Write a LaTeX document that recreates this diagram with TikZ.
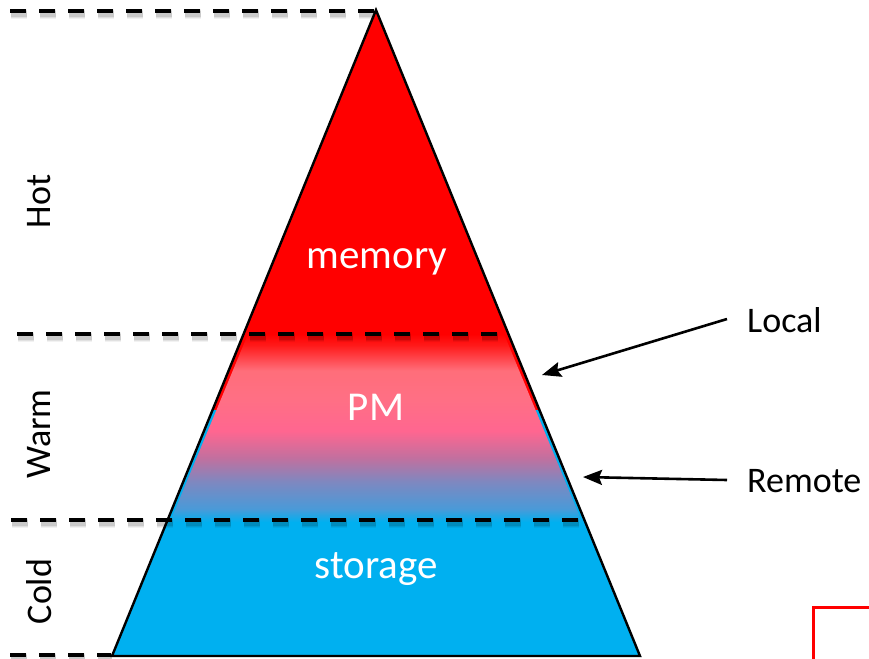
\documentclass[tikz,border=0pt]{standalone}
\usepackage{fontspec}
\setmainfont{Carlito}
\usetikzlibrary{arrows.meta}

\definecolor{hotred}{HTML}{FF0000}
\definecolor{coldblue}{HTML}{00B0F0}
\definecolor{pmA}{HTML}{4A9AD8}
\definecolor{pmB}{HTML}{7E88C0}
\definecolor{pmC}{HTML}{C0709F}
\definecolor{pmD}{HTML}{FF6690}
\definecolor{pmE}{HTML}{FF6F85}
\definecolor{pmF}{HTML}{FF6E7A}
\definecolor{pmG}{HTML}{FF1A1A}

% red-to-blue blend of the PM layer (25bp = bottom, 75bp = top)
\pgfdeclareverticalshading{pmblend}{100bp}{%
  color(0bp)=(coldblue); color(25bp)=(coldblue); color(28.5bp)=(pmA);
  color(35.7bp)=(pmB); color(41.9bp)=(pmC); color(49.2bp)=(pmD);
  color(57.3bp)=(pmE); color(65.3bp)=(pmF); color(72bp)=(pmG);
  color(75bp)=(hotred); color(100bp)=(hotred)}

\tikzset{
  tierline/.style={line width=4.8pt, dash pattern=on 16pt off 13pt},
  tiershadow/.style={dash pattern=on 16pt off 13pt, black},
  layertext/.style={text=white, font=\fontsize{41}{48}\selectfont, anchor=base, inner sep=0pt},
  sidetext/.style={font=\fontsize{36}{42}\selectfont, rotate=90, anchor=base, inner sep=0pt},
  kindtext/.style={font=\fontsize{36}{42}\selectfont, anchor=base west, inner sep=0pt},
  pointer/.style={line width=2.6pt, -{Stealth[length=19pt, width=15pt, inset=3pt]}},
}

\begin{document}
\begin{tikzpicture}[x=1pt, y=-1pt]
\useasboundingbox (0,0) rectangle (869,658);

% pyramid points
\coordinate (apex) at (376,10);
\coordinate (bl) at (112,656);
\coordinate (br) at (640,656);

% hot (red) and cold (blue) parts of the pyramid
\fill[hotred] (apex) -- (212.5,410) -- (539.5,410) -- cycle;
\fill[coldblue] (212.5,410) -- (539.5,410) -- (br) -- (bl) -- cycle;
% PM layer
\shade[shading=pmblend] (248,334) -- (504,334) -- (582,522) -- (170,522) -- cycle;
% outline
\draw[line width=2.4pt, line join=miter] (apex) -- (br) -- (bl) -- cycle;

% tier boundaries with their soft shadows
\foreach \ya/\xa/\xb in {11/10/376, 334/17/505, 520/11/583, 655/10/111} {
  \foreach \w/\o in {10/0.05, 8/0.07, 6/0.10} {
    \draw[tiershadow, line width=\w pt, opacity=\o] (\xa+1,\ya+3) -- (\xb+1,\ya+3);
  }
  \draw[tierline] (\xa,\ya) -- (\xb,\ya);
}

% layer names
\node[layertext] (mem) at (377,268) {memory};
\node[layertext] (pm) at (376,420) {PM};
\node[layertext] (sto) at (376,578) {storage};

% temperature labels
\node[sidetext] (hot) at (50,201.5) {Hot};
\node[sidetext] (warm) at (50,434) {Warm};
\node[sidetext] (cold) at (51,591.5) {Cold};

% local / remote pointers
\node[kindtext] (local) at (747,332) {Local};
\node[kindtext] (remote) at (747,492) {Remote};
\coordinate (lsrc) at (727,319);
\coordinate (ltip) at (542,375);
\coordinate (rsrc) at (727,480);
\coordinate (rtip) at (583,477);
\draw[pointer] (lsrc) -- (ltip);
\draw[pointer] (rsrc) -- (rtip);

% corner of a red frame
\draw[hotred, line width=3pt] (813,662) -- (813,607) -- (872,607);
\end{tikzpicture}
\end{document}
